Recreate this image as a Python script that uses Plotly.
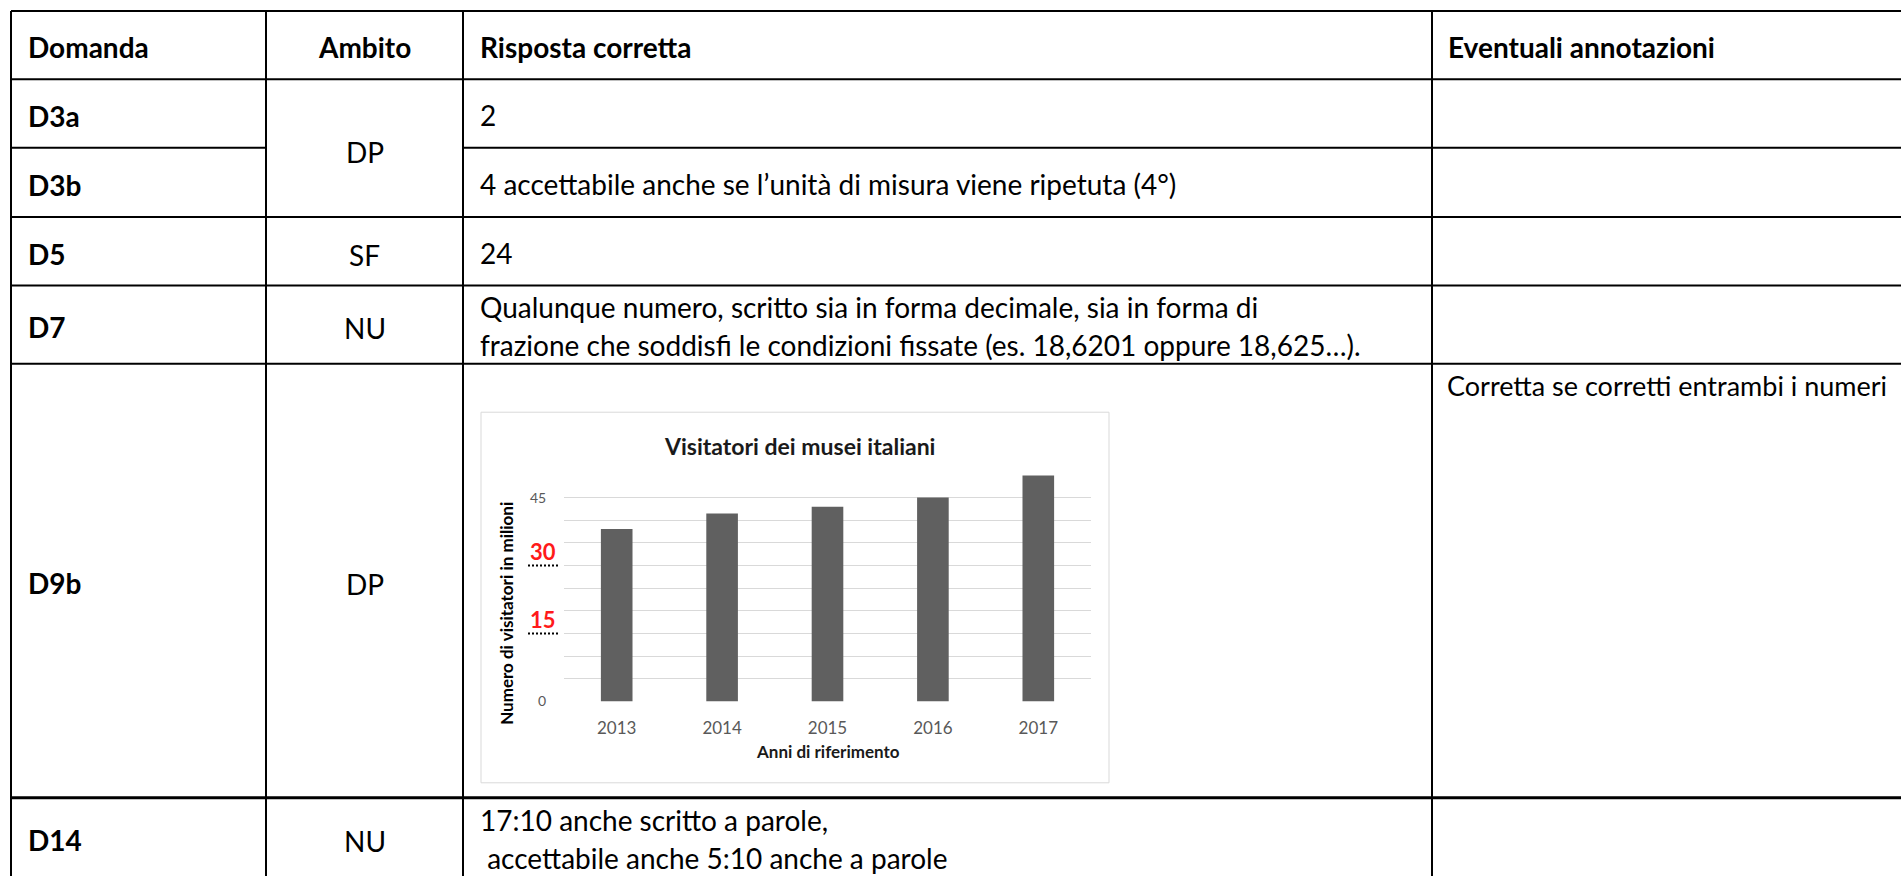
import plotly.graph_objects as go

W, H = 1901, 879

# ---------------- data ----------------
intestazioni = ["Domanda", "Ambito", "Risposta corretta", "Eventuali annotazioni"]
domande = ["D3a", "D3b", "D5", "D7", "D9b", "D14"]
ambiti = ["DP", "DP", "SF", "NU", "DP", "NU"]
gruppi_ambito = [[0, 1], [2], [3], [4], [5]]   # merged cells of the "Ambito" column
risposte = [
    ["2"],
    ["4 accettabile anche se l’unità di misura viene ripetuta (4°)"],
    ["24"],
    ["Qualunque numero, scritto sia in forma decimale, sia in forma di",
     "frazione che soddisfi le condizioni fissate (es. 18,6201 oppure 18,625…)."],
    [],
    ["17:10 anche scritto a parole,", " accettabile anche 5:10 anche a parole"],
]
annotazioni = ["", "", "", "", "Corretta se corretti entrambi i numeri", ""]

anni = ["2013", "2014", "2015", "2016", "2017"]
visitatori = [38.1, 41.5, 43.0, 45.0, 49.9]
griglia_y = [0, 5, 10, 15, 20, 25, 30, 35, 40, 45, 50]
etichette_y = ["0", "", "", "", "", "", "", "", "", "45", ""]
valori_rossi = [30, 15]
titolo_grafico = "Visitatori dei musei italiani"
titolo_x = "Anni di riferimento"
titolo_y = "Numero di visitatori in milioni"

# ---------------- layout geometry ----------------
FONT = "Lato"
FS = 28
col_x = [11, 266, 463, 1432, 1910]
row_y = [11, 80, 149, 219, 288, 367, 805, 886]
chart_box = (481, 416, 1109, 790)
plot_x = (564, 1091)
plot_y = (708, 479.3)


def px(x):
    return x / W


def py(y):
    return 1 - y / H


shapes = []
annots = []


def hline(y, x0, x1, w=2):
    shapes.append(dict(type="line", xref="paper", yref="paper", x0=px(x0), x1=px(x1),
                       y0=py(y), y1=py(y), line=dict(color="black", width=w)))


def vline(x, y0, y1, w=2):
    shapes.append(dict(type="line", xref="paper", yref="paper", x0=px(x), x1=px(x),
                       y0=py(y0), y1=py(y1), line=dict(color="black", width=w)))


def text(t, x, y, size=FS, bold=False, xanchor="left", yanchor="middle", color="black", angle=0):
    annots.append(dict(text=t, xref="paper", yref="paper", x=px(x), y=py(y),
                       xanchor=xanchor, yanchor=yanchor, showarrow=False, textangle=angle,
                       font=dict(family=FONT, size=size, color=color,
                                 weight="bold" if bold else "normal")))


# table borders
right = W + 5
merged_inner = set()
for g in gruppi_ambito:
    for r in g[1:]:
        merged_inner.add(r)          # line above row r is interrupted in column 2
hline(row_y[0], col_x[0], right)
for r in range(len(domande)):
    y = row_y[r + 1]
    if r in merged_inner:
        hline(y, col_x[0], col_x[1])
        hline(y, col_x[2], right)
    else:
        hline(y, col_x[0], right, 3 if r == 5 else 2)
for x in col_x[:4]:
    vline(x, row_y[0], H + 5)

# header
TY = 1.5
hy = (row_y[0] + row_y[1]) / 2 + TY
c2 = (col_x[1] + col_x[2]) / 2
text(intestazioni[0], 26, hy, bold=True)
text(intestazioni[1], c2, hy, bold=True, xanchor="center")
text(intestazioni[2], 478, hy, bold=True)
text(intestazioni[3], 1446, hy, bold=True)

# body rows
for i in range(len(domande)):
    top, bot = row_y[i + 1], row_y[i + 2]
    cy = (top + bot) / 2 + TY
    text(domande[i], 26, cy + 1, bold=True)
    lines = risposte[i]
    if len(lines) == 1:
        text(lines[0], 478, cy)
    elif len(lines) == 2:
        text(lines[0], 478, cy - 19)
        text(lines[1], 478, cy + 19)
    if annotazioni[i]:
        text(annotazioni[i], 1445, top + 3, size=27, yanchor="top")

for g in gruppi_ambito:
    top, bot = row_y[g[0] + 1], row_y[g[-1] + 2]
    text(ambiti[g[0]], c2, (top + bot) / 2 + TY + 2, xanchor="center")

# ---------------- embedded chart ----------------
bx0, by0, bx1, by1 = chart_box
shapes.append(dict(type="rect", xref="paper", yref="paper", layer="below",
                   x0=px(bx0), x1=px(bx1), y0=py(by1), y1=py(by0),
                   line=dict(color="#d9d9d9", width=1), fillcolor="white"))

text(titolo_grafico, 799, 450, size=23, bold=True, xanchor="center", color="#1a1a1a")
text(titolo_x, 827.5, 758, size=17, bold=True, xanchor="center", color="#1a1a1a")
text(titolo_y, 506.5, 619, size=17, bold=True, xanchor="center", color="black", angle=-90)

for v in valori_rossi:
    annots.append(dict(text=str(v), xref="paper", yref="y", x=px(543), y=v,
                       xanchor="center", yanchor="bottom", yshift=-1, showarrow=False,
                       font=dict(family=FONT, size=22, color="#ff1a1a", weight="bold")))
    shapes.append(dict(type="line", xref="paper", yref="y", x0=px(528), x1=px(558),
                       y0=v, y1=v, line=dict(color="black", width=2, dash="2px,2px")))

fig = go.Figure(go.Bar(x=anni, y=visitatori, marker=dict(color="#606060", line=dict(width=0)),
                       width=0.3, hoverinfo="x+y"))

fig.update_layout(
    width=W, height=H, margin=dict(l=0, r=0, t=0, b=0),
    paper_bgcolor="white", plot_bgcolor="rgba(0,0,0,0)",
    showlegend=False,
    shapes=shapes, annotations=annots,
    xaxis=dict(domain=[px(plot_x[0]), px(plot_x[1])], type="category", showgrid=False,
               zeroline=False, showline=False, ticks="outside", ticklen=11,
               tickcolor="rgba(0,0,0,0)", fixedrange=True,
               tickfont=dict(family=FONT, size=17, color="#595959")),
    yaxis=dict(domain=[py(plot_y[0]), py(plot_y[1])], range=[0, 50], tickvals=griglia_y,
               ticktext=etichette_y, showgrid=True, gridcolor="#d9d9d9", gridwidth=1,
               zeroline=False, showline=False, ticks="outside", ticklen=14,
               tickcolor="rgba(0,0,0,0)", fixedrange=True,
               tickfont=dict(family=FONT, size=14, color="#595959")),
)

fig.write_html("out.html", config={"displayModeBar": False},
               post_script="document.body.style.margin='0';document.body.style.overflow='hidden';")
